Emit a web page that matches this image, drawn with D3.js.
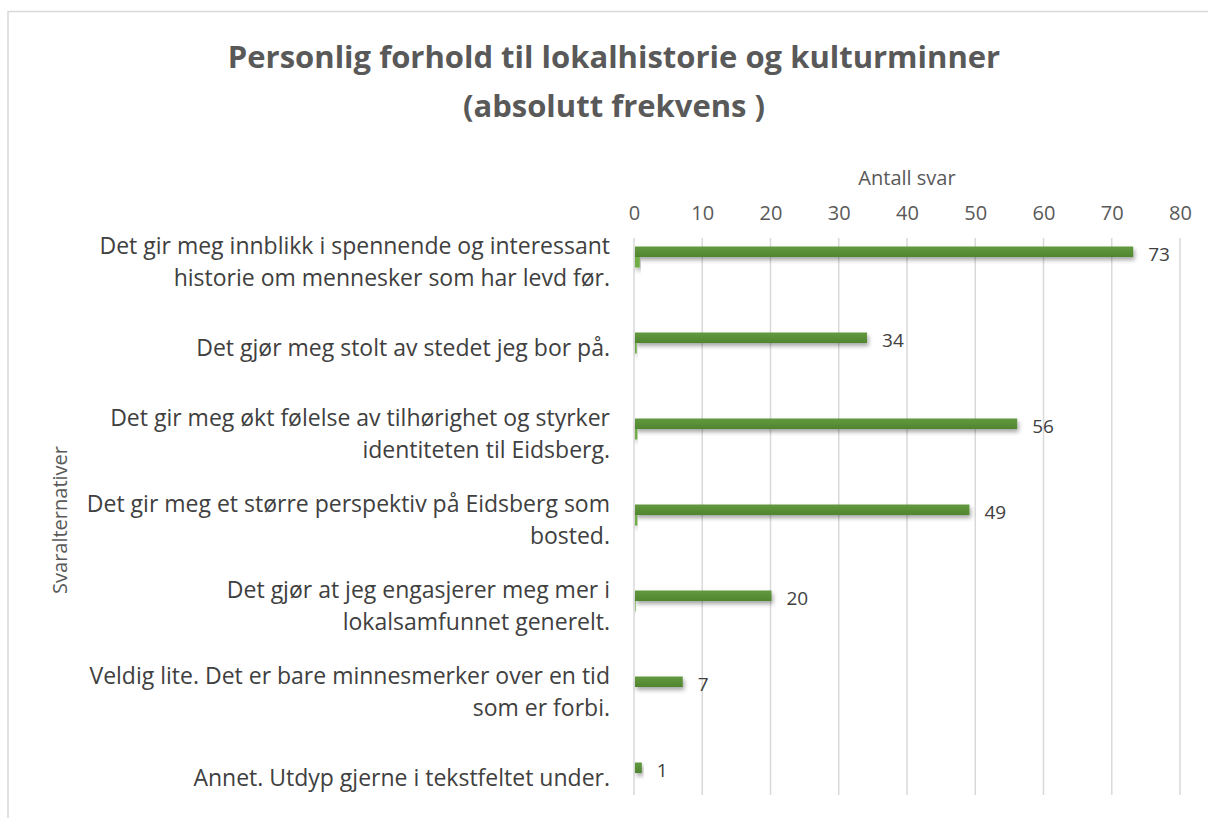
<!DOCTYPE html>
<html>
<head>
<meta charset="utf-8">
<script src="https://cdn.jsdelivr.net/npm/d3@7"></script>
<style>
  html, body { margin: 0; padding: 0; background: #fff; }
  svg { display: block; font-family: "Open Sans", "Noto Sans", sans-serif; }
</style>
</head>
<body>
<svg id="chart" width="1208" height="818"></svg>
<script>
// Survey answers (each label split into its display lines)
const categories = [
  ["Det gir meg innblikk i spennende og interessant", "historie om mennesker som har levd før."],
  ["Det gjør meg stolt av stedet jeg bor på."],
  ["Det gir meg økt følelse av tilhørighet og styrker", "identiteten til Eidsberg."],
  ["Det gir meg et større perspektiv på Eidsberg som", "bosted."],
  ["Det gjør at jeg engasjerer meg mer i", "lokalsamfunnet generelt."],
  ["Veldig lite. Det er bare minnesmerker over en tid", "som er forbi."],
  ["Annet. Utdyp gjerne i tekstfeltet under."]
];
const counts = [73, 34, 56, 49, 20, 7, 1];
const secondary = [0.7, 0.25, 0.35, 0.35, 0.1, 0, 0];
const xTicks = [0, 10, 20, 30, 40, 50, 60, 70, 80];

const titleLines = ["Personlig forhold til lokalhistorie og kulturminner", "(absolutt frekvens )"];
const xTitle = "Antall svar";
const yTitle = "Svaralternativer";

const svg = d3.select("#chart");
const keys = categories.map((c, i) => "c" + i);

const x = d3.scaleLinear().domain([0, 80]).range([634, 1180]);
const y = d3.scaleBand().domain(keys).range([214, 816]);
const sub = d3.scaleBand().domain(["main", "sub"]).range([-10.5, 10.5]);

const defs = svg.append("defs");
const shadow = defs.append("filter").attr("id", "shadow")
  .attr("x", "-10%").attr("y", "-50%").attr("width", "130%").attr("height", "250%");
shadow.append("feDropShadow").attr("dx", 1.5).attr("dy", 3).attr("stdDeviation", 2)
  .attr("flood-color", "#000").attr("flood-opacity", 0.35);

const grad = defs.append("linearGradient").attr("id", "barGrad")
  .attr("x1", 0).attr("y1", 0).attr("x2", 0).attr("y2", 1);
grad.append("stop").attr("offset", "0%").attr("stop-color", "#63993f");
grad.append("stop").attr("offset", "100%").attr("stop-color", "#4f852f");

// outer frame of the chart area
svg.append("path")
  .attr("d", "M8,818 V11.5 H1208")
  .attr("fill", "none").attr("stroke", "#d9d9d9").attr("stroke-width", 1.5);

// title
svg.append("text")
  .attr("x", 614).attr("text-anchor", "middle")
  .attr("fill", "#595959").attr("font-weight", "bold").attr("font-size", 31)
  .selectAll("tspan").data(titleLines).join("tspan")
  .attr("x", 614).attr("y", (d, i) => 68 + i * 49).text(d => d);

// vertical gridlines
svg.append("g").selectAll("line").data(xTicks).join("line")
  .attr("x1", d => x(d)).attr("x2", d => x(d))
  .attr("y1", 238).attr("y2", 795)
  .attr("stroke", "#d9d9d9").attr("stroke-width", 1.5);

// top axis
const xAxis = svg.append("g").attr("transform", "translate(0,238)")
  .call(d3.axisTop(x).tickValues(xTicks).tickSize(0).tickPadding(18));
xAxis.select(".domain").remove();
xAxis.selectAll("text").attr("font-size", 20).attr("fill", "#595959")
  .attr("font-family", "\"Open Sans\", sans-serif");

svg.append("text").attr("x", 907).attr("y", 185).attr("text-anchor", "middle")
  .attr("font-size", 20).attr("fill", "#595959").text(xTitle);

svg.append("text")
  .attr("transform", "translate(67,520) rotate(-90)")
  .attr("text-anchor", "middle").attr("font-size", 20).attr("fill", "#595959")
  .text(yTitle);

// category labels
const labelG = svg.append("g").attr("fill", "#404040").attr("font-size", 23)
  .attr("text-anchor", "end");
labelG.selectAll("text").data(categories).join("text")
  .each(function(lines, i) {
    const cy = y(keys[i]) + y.bandwidth() / 2 + 5;
    const lh = 32;
    const top = cy - (lines.length - 1) * lh / 2;
    d3.select(this).selectAll("tspan").data(lines).join("tspan")
      .attr("x", 610).attr("y", (d, j) => top + j * lh)
      .attr("dy", "0.35em").text(d => d);
  });

// bars
const bars = svg.append("g");
bars.selectAll("rect.main").data(counts).join("rect").attr("class", "main")
  .attr("x", x(0) + 1).attr("y", (d, i) => y(keys[i]) + y.bandwidth() / 2 + sub("main"))
  .attr("width", d => x(d) - x(0)).attr("height", sub.bandwidth())
  .attr("fill", "url(#barGrad)").attr("filter", "url(#shadow)");

bars.selectAll("rect.sub").data(secondary).join("rect").attr("class", "sub")
  .attr("x", x(0) + 1).attr("y", (d, i) => y(keys[i]) + y.bandwidth() / 2 + sub("sub"))
  .attr("width", d => x(d) - x(0)).attr("height", sub.bandwidth())
  .attr("fill", "#70ad47").attr("filter", "url(#shadow)");

// value labels
svg.append("g").selectAll("text").data(counts).join("text")
  .attr("x", d => x(d) + 16)
  .attr("y", (d, i) => y(keys[i]) + y.bandwidth() / 2 - 3)
  .attr("dy", "0.35em")
  .attr("font-size", 19).attr("fill", "#404040")
  .text(d => d);
</script>
</body>
</html>
